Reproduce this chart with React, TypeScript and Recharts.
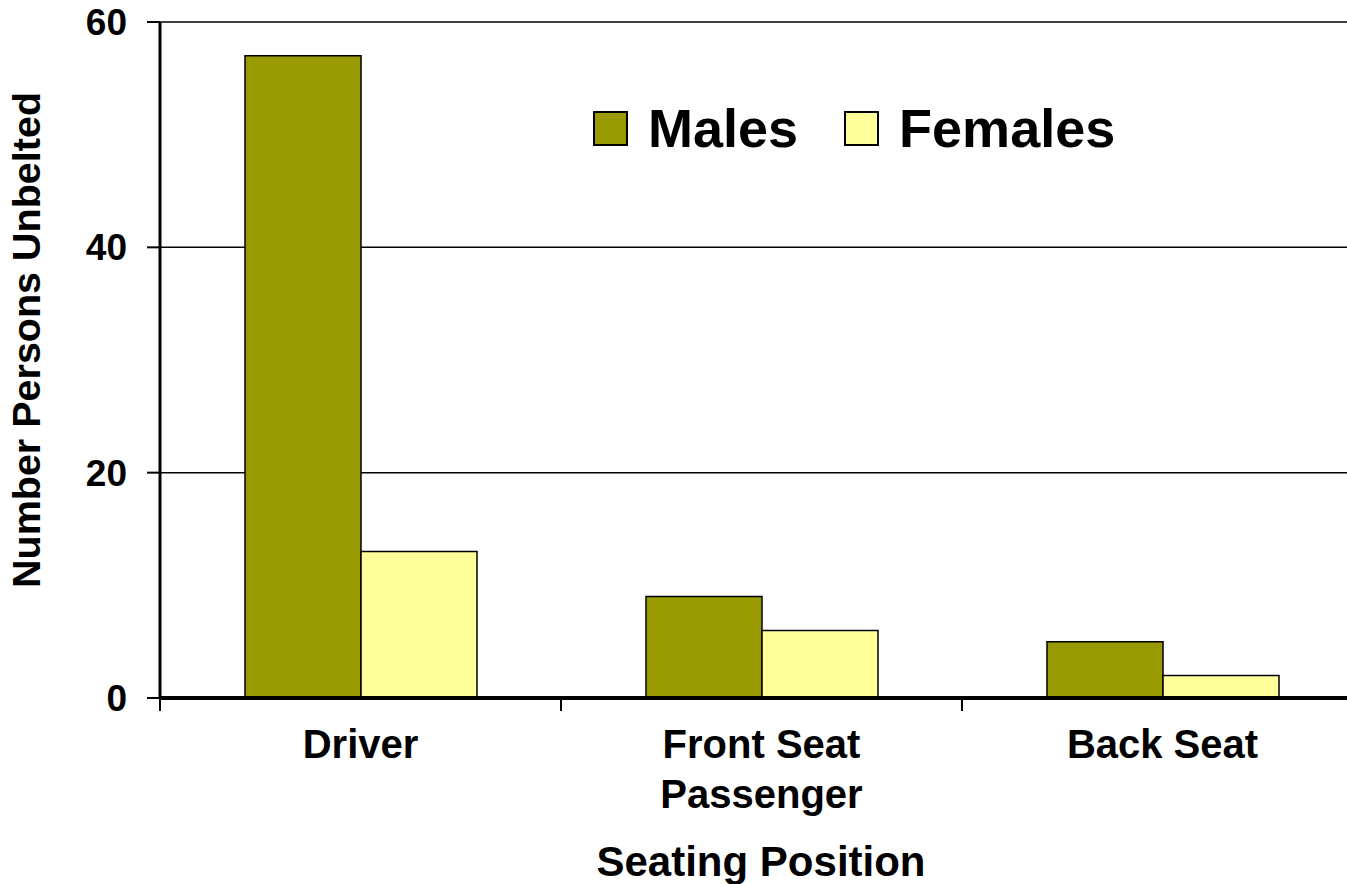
import React from "react";
import { BarChart, Bar, XAxis, YAxis, CartesianGrid, Label } from "recharts";

const categories = ["Driver", "Front Seat\nPassenger", "Back Seat"];
const males = [57, 9, 5];
const females = [13, 6, 2];
const yTicks = [0, 20, 40, 60];
const seriesNames = ["Males", "Females"];
const colors = ["#999900", "#FFFF99"];

const data = categories.map((c, i) => ({ category: c, Males: males[i], Females: females[i] }));

const FONT = "'Liberation Sans', Arial, sans-serif";

const XTick = (props: any) => {
  const { x, y, payload } = props;
  const lines = String(payload.value).split("\n");
  const off = typeof payload.offset === "number" && payload.offset > 0 ? payload.offset : (1363 - 160) / 6;
  return (
    <g>
      <line x1={x - off} x2={x - off} y1={y} y2={y + 13} stroke="#000" strokeWidth={2} />
      {lines.map((l: string, i: number) => (
        <text key={i} x={x} y={y + 60 + i * 50} textAnchor="middle" fontFamily={FONT} fontWeight="bold" fontSize={40} fill="#000">
          {l}
        </text>
      ))}
    </g>
  );
};

export default function App() {
  return (
    <div style={{ position: "absolute", left: 0, top: 0, width: 1347, height: 884, overflow: "hidden", background: "#fff" }}>
      <BarChart
        width={1363}
        height={884}
        data={data}
        margin={{ top: 22, right: 0, bottom: 0, left: 0 }}
        barCategoryGap={85}
        barGap={0}
      >
        <CartesianGrid horizontal vertical={false} stroke="#000" strokeWidth={1.5} />
        <XAxis
          dataKey="category"
          height={186}
          axisLine={{ stroke: "#000", strokeWidth: 4 }}
          tickLine={false}
          tickSize={0}
          tickMargin={0}
          tick={<XTick />}
          interval={0}
        >
          <Label
            content={() => (
              <text x={761} y={876} textAnchor="middle" fontFamily={FONT} fontWeight="bold" fontSize={42} fill="#000">
                Seating Position
              </text>
            )}
          />
        </XAxis>
        <YAxis
          domain={[0, 60]}
          ticks={yTicks}
          width={160}
          axisLine={{ stroke: "#000", strokeWidth: 3 }}
          tickLine={{ stroke: "#000", strokeWidth: 2 }}
          tickSize={13}
          tickMargin={20}
          tick={{ fontFamily: FONT, fontWeight: "bold", fontSize: 37, fill: "#000" }}
        >
          <Label
            content={() => (
              <text
                x={40}
                y={340}
                transform="rotate(-90 40 340)"
                textAnchor="middle"
                fontFamily={FONT}
                fontWeight="bold"
                fontSize={39.5}
                fill="#000"
              >
                Number Persons Unbelted
              </text>
            )}
          />
        </YAxis>
        <Bar dataKey="Males" fill={colors[0]} stroke="#000" strokeWidth={1.5} isAnimationActive={false} />
        <Bar dataKey="Females" fill={colors[1]} stroke="#000" strokeWidth={1.5} isAnimationActive={false} />
      </BarChart>
      <div
        style={{
          position: "absolute",
          left: 593,
          top: 101,
          height: 54,
          display: "flex",
          alignItems: "center",
          fontFamily: FONT,
          fontWeight: "bold",
          fontSize: 54,
          lineHeight: 1,
        }}
      >
        {seriesNames.map((n, i) => (
          <div key={n} style={{ display: "flex", alignItems: "center", marginRight: i === 0 ? 46 : 0 }}>
            <div style={{ width: 31, height: 31, background: colors[i], border: "2px solid #000", marginRight: 20 }} />
            <span>{n}</span>
          </div>
        ))}
      </div>
    </div>
  );
}
